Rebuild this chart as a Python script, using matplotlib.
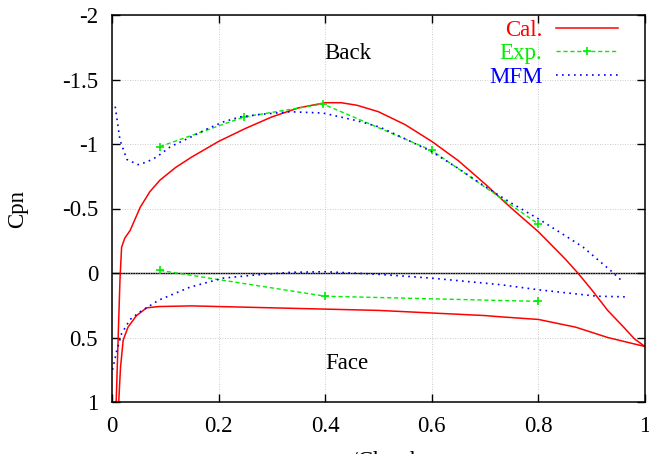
import matplotlib
matplotlib.use("Agg")
import matplotlib.pyplot as plt

plt.rcParams['font.family'] = ['Liberation Serif', 'DejaVu Serif']

# Cal. (red) - back and face
cal_back_x = [0.0075, 0.012, 0.015, 0.018, 0.024, 0.034, 0.053, 0.071, 0.09, 0.12, 0.15,
              0.2, 0.25, 0.3, 0.35, 0.4, 0.43, 0.46, 0.5, 0.55, 0.6, 0.65, 0.7, 0.75, 0.8,
              0.85, 0.874, 0.9, 0.93, 0.96, 0.98, 1.0]
cal_back_y = [1.05, 0.44, 0.05, -0.2, -0.27, -0.33, -0.51, -0.63, -0.72, -0.82, -0.90,
              -1.02, -1.12, -1.21, -1.28, -1.32, -1.32, -1.30, -1.25, -1.15, -1.02, -0.87,
              -0.69, -0.50, -0.32, -0.11, 0.0, 0.13, 0.29, 0.42, 0.51, 0.57]
cal_face_x = [0.012, 0.016, 0.021, 0.03, 0.046, 0.065, 0.088, 0.15, 0.2, 0.3, 0.4, 0.5,
              0.6, 0.7, 0.73, 0.8, 0.87, 0.93, 0.97, 1.0]
cal_face_y = [1.05, 0.73, 0.52, 0.42, 0.33, 0.27, 0.26, 0.255, 0.26, 0.27, 0.28, 0.29,
              0.31, 0.33, 0.34, 0.36, 0.42, 0.50, 0.54, 0.57]

# Exp. (green)
exp_back_x = [0.09, 0.248, 0.396, 0.6, 0.8]
exp_back_y = [-0.98, -1.21, -1.31, -0.95, -0.38]
exp_face_x = [0.09, 0.4, 0.8]
exp_face_y = [-0.02, 0.18, 0.22]

# MFM (blue)
mfm_back_x = [0.006, 0.015, 0.028, 0.049, 0.065, 0.084, 0.11, 0.146, 0.18, 0.208, 0.24,
              0.28, 0.334, 0.396, 0.428, 0.46, 0.503, 0.55, 0.6, 0.65, 0.7, 0.75, 0.8,
              0.85, 0.884, 0.938, 0.959]
mfm_back_y = [-1.29, -1.03, -0.88, -0.84, -0.86, -0.90, -0.98, -1.05, -1.12, -1.17, -1.21,
              -1.23, -1.25, -1.24, -1.21, -1.18, -1.13, -1.04, -0.94, -0.81, -0.67, -0.54,
              -0.42, -0.29, -0.2, -0.01, 0.07]
mfm_face_x = [0.001, 0.009, 0.018, 0.034, 0.053, 0.088, 0.146, 0.208, 0.27, 0.334, 0.4,
              0.5, 0.6, 0.728, 0.8, 0.91, 0.966]
mfm_face_y = [0.75, 0.6, 0.47, 0.36, 0.3, 0.21, 0.11, 0.04, 0.015, -0.005, -0.01,
              0.01, 0.04, 0.09, 0.13, 0.18, 0.185]

xticks = [0, 0.2, 0.4, 0.6, 0.8, 1]
xticklabels = ['0', '0.2', '0.4', '0.6', '0.8', '1']
yticks = [-2, -1.5, -1, -0.5, 0, 0.5, 1]
yticklabels = ['-2', '-1.5', '-1', '-0.5', '0', '0.5', '1']

fs = 16.5

fig = plt.figure(figsize=(6.49, 4.54), dpi=100)
ax = fig.add_axes([112 / 649, 52 / 454, 533 / 649, 387 / 454])

ax.grid(True, color='#bbbbbb', linestyle=(0, (1, 2)), linewidth=0.6)
ax.axhline(0, color='black', linewidth=1.0, zorder=1.5)

ax.plot(cal_back_x, cal_back_y, color='red', lw=1.1, label='Cal.')
ax.plot(cal_face_x, cal_face_y, color='red', lw=1.1)
ax.plot(exp_back_x, exp_back_y, color='#00ee00', lw=1.0, linestyle=(0, (3, 2)),
        marker='+', markersize=6, markeredgewidth=1.2, label='Exp.')
ax.plot(exp_face_x, exp_face_y, color='#00ee00', lw=1.0, linestyle=(0, (3, 2)),
        marker='+', markersize=6, markeredgewidth=1.2)
ax.plot(mfm_back_x, mfm_back_y, color='blue', lw=1.2, linestyle=(0, (1, 2.6)), label='MFM')
ax.plot(mfm_face_x, mfm_face_y, color='blue', lw=1.2, linestyle=(0, (1, 2.6)))

ax.set_xlim(0, 1)
ax.set_ylim(1, -2)
ax.set_xticks(xticks)
ax.set_xticklabels(xticklabels)
ax.set_yticks(yticks)
ax.set_yticklabels(yticklabels)
ax.tick_params(direction='in', length=6, width=1.0, top=True, right=True,
               labelsize=fs, pad=10)
for s in ax.spines.values():
    s.set_linewidth(1.1)

ax.set_xlabel('x/Chord', fontsize=fs, labelpad=10)
ax.set_ylabel('Cpn', fontsize=fs, labelpad=24)

ax.text(0.443, -1.705, 'Back', fontsize=fs, ha='center', va='center')
ax.text(0.441, 0.705, 'Face', fontsize=fs, ha='center', va='center')

leg = ax.legend(loc='upper right', bbox_to_anchor=(618 / 649, 434 / 454),
                bbox_transform=fig.transFigure, frameon=False, markerfirst=False,
                fontsize=fs, handlelength=2.7, handletextpad=0.6, labelspacing=0.1,
                borderpad=0, borderaxespad=0, numpoints=1, labelcolor='linecolor')

fig.savefig('out.png', dpi=100)
